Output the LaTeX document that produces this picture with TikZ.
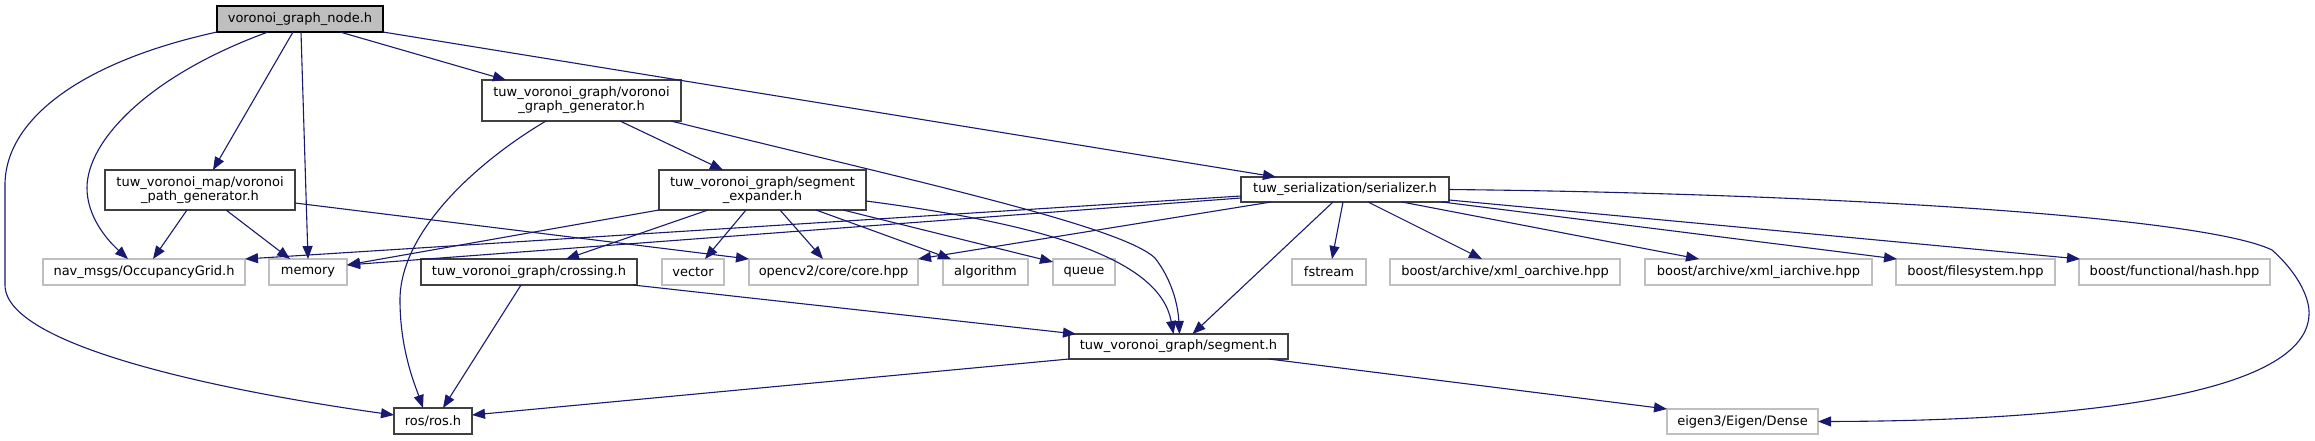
\documentclass[tikz,border=0pt]{standalone}
\usepackage{fontspec}
\setmainfont{DejaVu Sans}
\usetikzlibrary{arrows.meta,calc}
\definecolor{edgeblue}{HTML}{191970}
\definecolor{docborder}{HTML}{404040}
\definecolor{undocborder}{HTML}{BFBFBF}
\definecolor{rootfill}{HTML}{BFBFBF}
\begin{document}
\begin{tikzpicture}[x=1pt,y=-1pt,
  box/.style={draw=docborder, line width=1.2pt, fill=white, inner sep=0pt, outer sep=0pt, align=center, font=\fontsize{13}{14}\selectfont},
  ext/.style={box, draw=undocborder},
  root/.style={box, draw=black, fill=rootfill},
  one/.style={minimum height=26pt},
  two/.style={minimum height=40pt},
  dep/.style={draw=edgeblue, line width=1.1pt, -{Triangle[length=13pt,width=10pt]}}
]
\useasboundingbox (0,0) rectangle (2315,440);
\fill[white] (0,0) rectangle (2315,440);
% nodes
\node[root, one, minimum width=166pt] (vgn) at (300,19) {voronoi\_graph\_node.h};
\node[box, minimum width=199pt, minimum height=41pt] (vgg) at (581.5,100.5) {tuw\_voronoi\_graph/voronoi\\\_graph\_generator.h};
\node[box, two, minimum width=190pt] (vpg) at (200,190) {tuw\_voronoi\_map/voronoi\\\_path\_generator.h};
\node[box, two, minimum width=207pt] (sexp) at (762.5,190) {tuw\_voronoi\_graph/segment\\\_expander.h};
\node[box, minimum height=25pt, minimum width=208pt] (ser) at (1345,189.5) {tuw\_serialization/serializer.h};
\node[ext, one, minimum width=202pt] (nav) at (144,272) {nav\_msgs/OccupancyGrid.h};
\node[ext, one, minimum width=78pt] (mem) at (308,272) {memory};
\node[box, one, minimum width=216pt] (cross) at (529,272) {tuw\_voronoi\_graph/crossing.h};
\node[ext, one, minimum width=62pt] (vec) at (693,272) {vector};
\node[ext, one, minimum width=169pt] (ocv) at (833.5,272) {opencv2/core/core.hpp};
\node[ext, one, minimum width=85pt] (alg) at (985.5,272) {algorithm};
\node[ext, one, minimum width=62pt] (que) at (1084,272) {queue};
\node[ext, one, minimum width=74pt] (fst) at (1329,272) {fstream};
\node[ext, one, minimum width=230pt] (xo) at (1505,272) {boost/archive/xml\_oarchive.hpp};
\node[ext, one, minimum width=227pt] (xi) at (1758.5,272) {boost/archive/xml\_iarchive.hpp};
\node[ext, one, minimum width=159pt] (fs) at (1975.5,272) {boost/filesystem.hpp};
\node[ext, one, minimum width=191pt] (hash) at (2174.5,272) {boost/functional/hash.hpp};
\node[box, minimum height=25pt, minimum width=219pt] (seg) at (1178.5,346.5) {tuw\_voronoi\_graph/segment.h};
\node[box, one, minimum width=78pt] (ros) at (433,421) {ros/ros.h};
\node[ext, minimum height=25pt, minimum width=151pt] (dense) at (1742.5,421.5) {eigen3/Eigen/Dense};
% edges from voronoi_graph_node.h
\draw[dep] (vgn.south west) .. controls (80,62) and (5,120) .. (5,185) -- (5,285) .. controls (5,350) and (250,395) .. ($(ros.west)+(0,-6)$);
\draw[dep] ($(vgn.south west)+(51,0)$) .. controls (150,75) and (87,140) .. (87,188) .. controls (87,215) and (105,238) .. ($(nav.north west)+(85,0)$);
\draw[dep] ($(vgn.south west)+(76,0)$) -- ($(vpg.north west)+(108,0)$);
\draw[dep] ($(vgn.south west)+(84,0)$) -- (mem.north);
\draw[dep] ($(vgn.south west)+(123,0)$) -- ($(vgg.north west)+(24,0)$);
\draw[dep] (vgn.south east) -- ($(ser.north west)+(35,0)$);
% edges from voronoi_graph_generator.h
\draw[dep] ($(vgg.south west)+(64,0)$) .. controls (480,160) and (400,230) .. (400,300) .. controls (400,350) and (415,385) .. ($(ros.north west)+(29,0)$);
\draw[dep] ($(vgg.south west)+(138,0)$) -- ($(sexp.north west)+(64,0)$);
\draw[dep] ($(vgg.south west)+(189,0)$) .. controls (900,178) and (1120,225) .. (1155,258) .. controls (1172,280) and (1178,305) .. ($(seg.north)+(1,0)$);
% edges from voronoi_path_generator.h
\draw[dep] ($(vpg.south west)+(82,0)$) -- ($(nav.north west)+(110,0)$);
\draw[dep] ($(vpg.south west)+(121,0)$) -- ($(mem.north west)+(21,0)$);
\draw[dep] ($(vpg.south east)+(0,-7)$) -- (ocv.north west);
% edges from segment_expander.h
\draw[dep] (sexp.south west) -- ($(mem.north east)+(0,6)$);
\draw[dep] ($(sexp.south west)+(49,0)$) -- ($(cross.north west)+(145,0)$);
\draw[dep] ($(sexp.south west)+(87,0)$) -- ($(vec.north west)+(43,0)$);
\draw[dep] ($(sexp.south west)+(121,0)$) -- ($(ocv.north west)+(74,0)$);
\draw[dep] ($(sexp.south west)+(157,0)$) -- ($(alg.north west)+(8,0)$);
\draw[dep] ($(sexp.south west)+(184,0)$) -- ($(que.north west)+(0,3)$);
\draw[dep] ($(sexp.south east)+(0,-9)$) .. controls (1050,225) and (1160,260) .. ($(seg.north)+(-5,0)$);
% edges from serializer.h
\draw[dep] ($(ser.south west)+(0,-6)$) -- (nav.north east);
\draw[dep] ($(ser.south west)+(0,-4)$) -- ($(mem.north east)+(0,6)$);
\draw[dep] ($(ser.south west)+(30,0)$) -- (ocv.north east);
\draw[dep] ($(ser.south west)+(92,0)$) -- ($(seg.north)+(14,0)$);
\draw[dep] ($(ser.south west)+(102,0)$) -- ($(fst.north)+(3,0)$);
\draw[dep] ($(ser.south west)+(127,0)$) -- ($(xo.north west)+(92,0)$);
\draw[dep] ($(ser.south west)+(161,0)$) -- ($(xi.north west)+(54,0)$);
\draw[dep] ($(ser.south east)+(-7,0)$) -- ($(fs.north west)+(1,0)$);
\draw[dep] ($(ser.south east)+(0,-2)$) -- ($(hash.north west)+(1,0)$);
\draw[dep] (ser.east) .. controls (1800,193) and (2200,215) .. (2272,250) .. controls (2300,275) and (2310,300) .. (2309,315) .. controls (2305,400) and (2050,421) .. (dense.east);
% edges from crossing.h
\draw[dep] ($(cross.south west)+(100,0)$) -- ($(ros.north west)+(49,0)$);
\draw[dep] ($(cross.south east)+(-4,0)$) -- ($(seg.north west)+(7,0)$);
% edges from segment.h
\draw[dep] (seg.south west) -- ($(ros.north east)+(0,7)$);
\draw[dep] ($(seg.south east)+(-19,0)$) -- (dense.north west);
\end{tikzpicture}
\end{document}
